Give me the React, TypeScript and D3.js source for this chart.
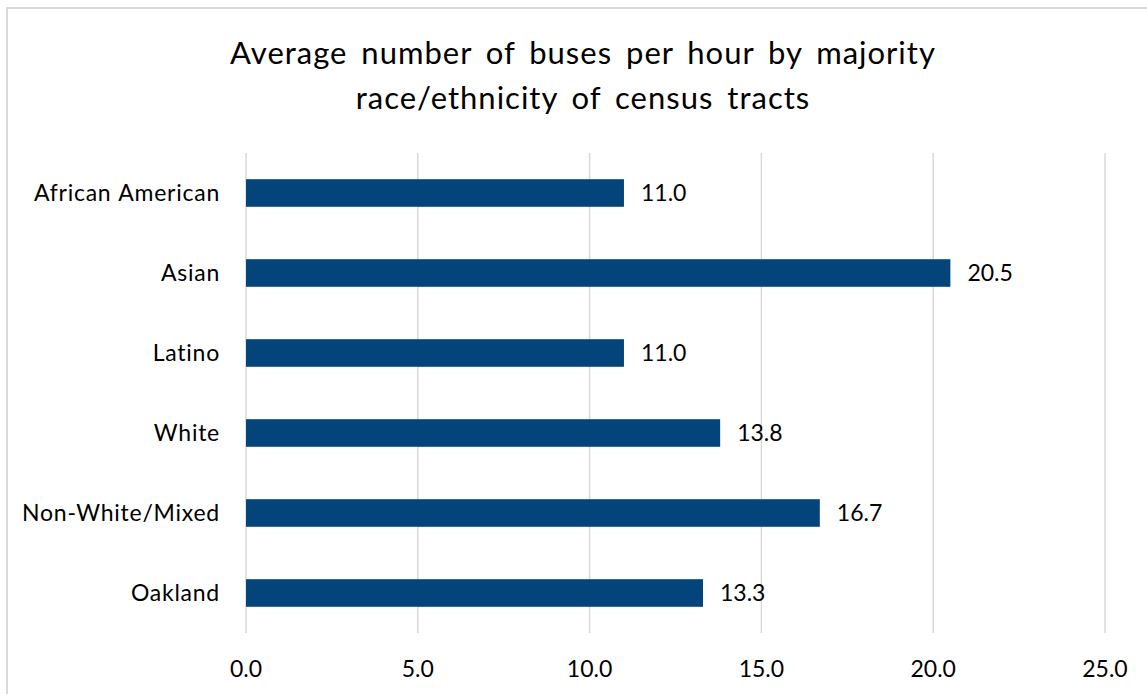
import React from "react";
import * as d3 from "d3";

const categories = ["African American", "Asian", "Latino", "White", "Non-White/Mixed", "Oakland"];
const values = [11.0, 20.5, 11.0, 13.8, 16.7, 13.3];
const xTicks = [0, 5, 10, 15, 20, 25];
const titleLines = ["Average number of buses per hour by majority", "race/ethnicity of census tracts"];

const W = 1147;
const H = 694;
const FONT = "Lato, Carlito, Calibri, sans-serif";

export default function App() {
  const plotLeft = 246;
  const plotRight = 1105;
  const plotTop = 153;
  const plotBottom = 633;

  const x = d3.scaleLinear().domain([0, 25]).range([plotLeft, plotRight]);
  const y = d3
    .scaleBand<string>()
    .domain(categories)
    .range([plotTop, plotBottom])
    .paddingInner(0.655)
    .paddingOuter(0.3275);

  return (
    <svg
      width={W}
      height={H}
      style={{ position: "absolute", left: 0, top: 0, background: "#fff" }}
      fontFamily={FONT}
    >
      <rect x={7} y={8} width={W + 10} height={H + 10} fill="#fff" stroke="#d9d9d9" strokeWidth={2} />
      {titleLines.map((t, i) => (
        <text
          key={i}
          x={583}
          y={64 + i * 45}
          textAnchor="middle"
          fontSize={31}
          letterSpacing={1}
          wordSpacing={5}
          fill="#000"
        >
          {t}
        </text>
      ))}
      {xTicks.map((t) => (
        <g key={t}>
          <line x1={x(t)} x2={x(t)} y1={plotTop} y2={plotBottom} stroke="#d9d9d9" strokeWidth={1.5} />
          <text x={x(t)} y={677} textAnchor="middle" fontSize={23} fill="#000">
            {d3.format(".1f")(t)}
          </text>
        </g>
      ))}
      {categories.map((c, i) => {
        const by = y(c)!;
        const bh = y.bandwidth();
        const cy = by + bh / 2;
        return (
          <g key={c}>
            <rect x={x(0)} y={by} width={x(values[i]) - x(0)} height={bh} fill="#03457A" />
            <text
              x={220}
              y={cy}
              dy="0.34em"
              textAnchor="end"
              fontSize={23}
              letterSpacing={0.75}
              wordSpacing={1}
              fill="#000"
            >
              {c}
            </text>
            <text x={x(values[i]) + 17} y={cy} dy="0.34em" textAnchor="start" fontSize={23} fill="#000">
              {d3.format(".1f")(values[i])}
            </text>
          </g>
        );
      })}
    </svg>
  );
}
